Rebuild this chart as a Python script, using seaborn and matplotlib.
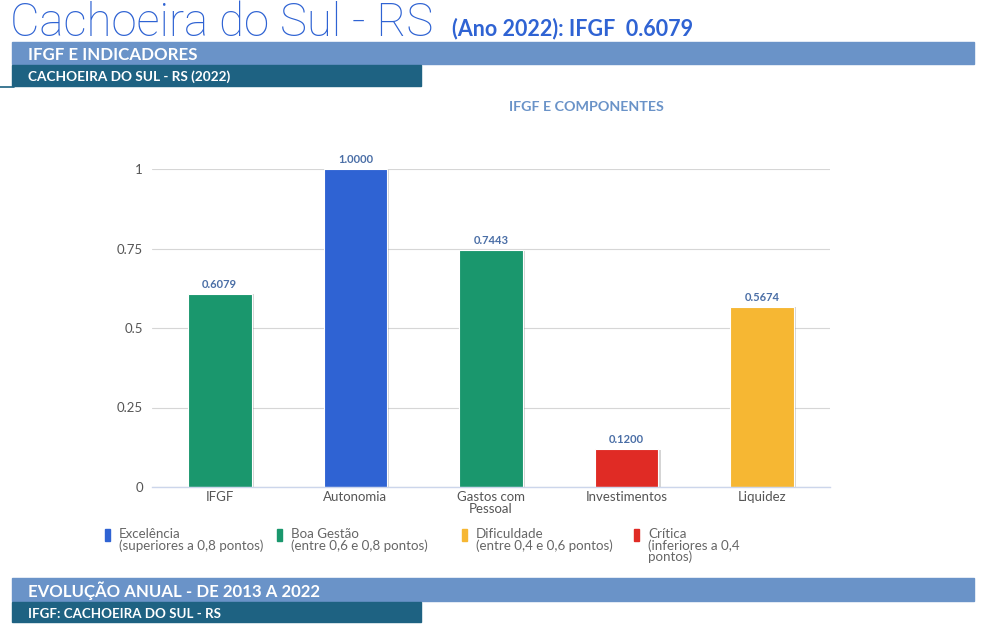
import matplotlib
matplotlib.use("Agg")
import matplotlib.pyplot as plt
import matplotlib.patheffects as pe
import seaborn as sns
import pandas as pd
from matplotlib.patches import Rectangle

categories = ["IFGF", "Autonomia", "Gastos com\nPessoal", "Investimentos", "Liquidez"]
values = [0.6079, 1.0000, 0.7443, 0.1200, 0.5674]
bar_colors = ["#1a976d", "#2f63d3", "#1a976d", "#e02b25", "#f6b733"]
yticks = [0, 0.25, 0.5, 0.75, 1]
ytick_labels = ["0", "0.25", "0.5", "0.75", "1"]
legend_labels = ["Excelência\n(superiores a 0,8 pontos)", "Boa Gestão\n(entre 0,6 e 0,8 pontos)",
                 "Dificuldade\n(entre 0,4 e 0,6 pontos)", "Crítica\n(inferiores a 0,4\npontos)"]
legend_colors = ["#2f63d3", "#1a976d", "#f6b733", "#e02b25"]

sns.set_theme(style="white")
plt.rcParams['font.family'] = ['Lato', 'DejaVu Sans']

W, H = 983, 631
fig = plt.figure(figsize=(W / 100, H / 100), dpi=100)

def fx(px):
    return px / W

def fy(py):
    return 1 - py / H

# Title
fig.text(fx(10), fy(36), "Cachoeira do Sul - RS", fontsize=32.8, color="#2f63d3",
         fontweight="light", family=["Roboto", "DejaVu Sans"], ha="left", va="baseline")
fig.text(fx(452), fy(35), "(Ano 2022): IFGF  0.6079", fontsize=15.5, color="#2f63d3",
         fontweight="bold", ha="left", va="baseline")

def band(x0, y0, x1, y1, color, text, size, tx):
    fig.patches.append(Rectangle((fx(x0), fy(y1)), fx(x1 - x0), (y1 - y0) / H,
                                 transform=fig.transFigure, color=color, zorder=0))
    fig.text(fx(tx), fy((y0 + y1) / 2 + 1.5), text, color="white", fontsize=size,
             fontweight="bold", ha="left", va="center")

band(12, 42, 974, 64, "#6a93c8", "IFGF E INDICADORES", 12.2, 28)
band(12, 65, 421, 86, "#1e6282", "CACHOEIRA DO SUL - RS (2022)", 9.8, 28)
band(12, 578, 974, 601, "#6a93c8", "EVOLUÇÃO ANUAL - DE 2013 A 2022", 12.1, 28)
band(12, 602, 421, 622, "#1e6282", "IFGF: CACHOEIRA DO SUL - RS", 9.6, 28)
fig.add_artist(plt.Line2D([0, fx(14)], [fy(87), fy(87)], transform=fig.transFigure,
                          color="#1e6282", lw=1.2))

fig.text(fx(586), fy(107), "IFGF E COMPONENTES", color="#6a93c8", fontsize=10.3,
         fontweight="bold", ha="center", va="center")

# Axes
ax = fig.add_axes([fx(152), fy(487), fx(830 - 152), (487 - 169) / H])
df = pd.DataFrame({"cat": categories, "val": values})
sns.barplot(data=df, x="cat", y="val", hue="cat", palette=bar_colors, legend=False,
            width=0.47, ax=ax, saturation=1, edgecolor="white", linewidth=0.8, zorder=3)
for p in ax.patches:
    p.set_path_effects([pe.SimplePatchShadow(offset=(1.5, -0.5), shadow_rgbFace="#888888",
                                             alpha=0.35), pe.Normal()])
ax.set_xlim(-0.5, len(categories) - 0.5)
ax.set_ylim(0, 1)
ax.set_yticks(yticks)
ax.set_yticklabels(ytick_labels)
ax.set_xlabel("")
ax.set_ylabel("")
ax.grid(axis="y", color="#d6d6d6", lw=0.8, zorder=0)
ax.grid(axis="x", visible=False)
for s in ["top", "right", "left"]:
    ax.spines[s].set_visible(False)
ax.spines["bottom"].set_color("#ccd6eb")
ax.spines["bottom"].set_linewidth(1)
ax.spines["bottom"].set_zorder(4)
ax.tick_params(axis="y", length=0, labelsize=9.5, labelcolor="#555555", pad=6.5)
ax.tick_params(axis="x", which="major", length=0, labelsize=9.5, labelcolor="#555555", pad=3)
ax.set_xticks([i - 0.5 for i in range(len(categories) + 1)], minor=True)
ax.tick_params(axis="x", which="minor", length=6, color="#ccd6eb", width=1)
for t in ax.get_xticklabels():
    t.set_linespacing(0.95)

for i, v in enumerate(values):
    ax.text(i, v + 0.012, f"{v:.4f}", ha="center", va="bottom", fontsize=8,
            fontweight="bold", color="#4a6ea6", clip_on=False)

# Legend
leg_x = [105, 277, 462, 634]
for x, lab, c in zip(leg_x, legend_labels, legend_colors):
    fig.patches.append(Rectangle((fx(x), fy(541)), fx(5), 12 / H,
                                 transform=fig.transFigure, color=c))
    fig.text(fx(x + 14), fy(528), lab, fontsize=9.6, color="#666666", ha="left",
             va="top", linespacing=0.92)

fig.savefig("out.png", dpi=100)
